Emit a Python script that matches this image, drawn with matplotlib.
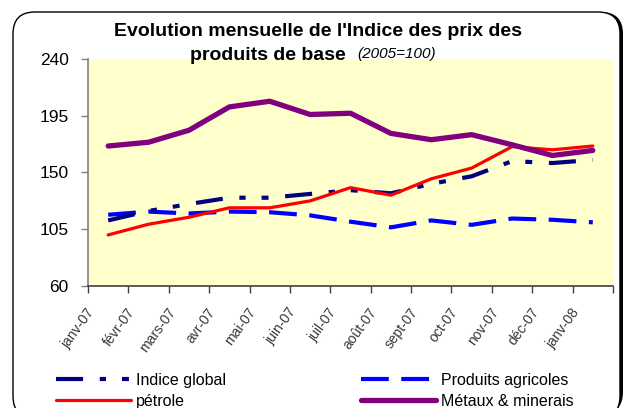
import matplotlib
matplotlib.use("Agg")
import matplotlib.pyplot as plt
from matplotlib.patches import FancyBboxPatch

plt.rcParams['font.family'] = ['Liberation Sans', 'DejaVu Sans']
plt.rcParams['lines.scale_dashes'] = False

# ---- data ----
months = ["janv-07", "févr-07", "mars-07", "avr-07", "mai-07", "juin-07", "juil-07",
          "août-07", "sept-07", "oct-07", "nov-07", "déc-07", "janv-08"]
indice_global = [112, 119.5, 125, 130, 130, 133, 136, 133.5, 141, 147, 159, 157.5, 160]
produits_agricoles = [116.5, 119, 117.5, 119, 118.5, 116, 111, 106.5, 112, 108.5, 113.5, 112.5, 110.5]
petrole = [100.5, 109, 114.5, 122, 122, 127.5, 138, 132, 145, 153.5, 170.5, 168, 171]
metaux = [171, 174, 183.5, 202, 206.5, 196, 197, 181, 176, 180, 172, 163.5, 167.5]
y_ticks = [60, 105, 150, 195, 240]

W, H = 625, 408
fig = plt.figure(figsize=(W / 100, H / 100), dpi=100)
fig.patch.set_facecolor('white')

# outer rounded frame with shadow
asp = W / H
shadow = FancyBboxPatch((16 / W, -6 / H), (607 / W), (396 / H + 6 / H),
                        boxstyle="round,pad=0,rounding_size=0.035",
                        mutation_aspect=asp, transform=fig.transFigure,
                        facecolor='black', edgecolor='black', lw=0, zorder=0)
frame = FancyBboxPatch((13 / W, -10 / H), (607 / W), (408 - 12 + 10) / H,
                       boxstyle="round,pad=0,rounding_size=0.035",
                       mutation_aspect=asp, transform=fig.transFigure,
                       facecolor='white', edgecolor='black', lw=1.0, zorder=0.5)
fig.patches.extend([shadow, frame])

left, right, top, bottom = 88, 613, 59, 286
ax = fig.add_axes([left / W, 1 - bottom / H, (right - left) / W, (bottom - top) / H])
ax.set_facecolor('#FFFFCC')
ax.set_zorder(2)

x = list(range(len(months)))
ax.plot(x, produits_agricoles, color='#0000FF', lw=3.0, dashes=(20, 9),
        dash_capstyle='butt', label='Produits agricoles', zorder=3)
ax.plot(x, indice_global, color='#000080', lw=3.0, dashes=(19.5, 12, 4.5, 11.5, 5, 12),
        dash_capstyle='butt', label='Indice global', zorder=4)
ax.plot(x, petrole, color='#FF0000', lw=2.3, solid_capstyle='round',
        solid_joinstyle='round', label='pétrole', zorder=5)
ax.plot(x, metaux, color='#800080', lw=3.8, solid_capstyle='round',
        solid_joinstyle='round', label='Métaux & minerais', zorder=6)

ax.set_yticks(y_ticks)
ax.set_yticklabels([str(v) for v in y_ticks], fontsize=12.5)
ax.tick_params(axis='y', direction='out', length=5, width=1, color='#808080', pad=9)

bounds = [i - 0.5 for i in range(len(months) + 1)]
ax.set_xticks(bounds)
ax.set_xticklabels([''] * len(bounds))
ax.tick_params(axis='x', which='major', direction='out', length=5, width=1, color='#404040')
ax.set_ylim(60, 240)
ax.set_xlim(-0.5, len(months) - 0.5)

# month labels (rotated, upper end slightly left of each category centre)
for i, m in enumerate(months):
    ax.text(i - 0.55, -0.085, m, transform=ax.get_xaxis_transform(), rotation=54,
            ha='right', va='top', rotation_mode='anchor', fontsize=10,
            color='#383838', clip_on=False)

for s in ['top', 'right']:
    ax.spines[s].set_visible(False)
ax.spines['left'].set_color('#808080')
ax.spines['bottom'].set_color('#404040')
ax.spines['left'].set_linewidth(1.2)
ax.spines['bottom'].set_linewidth(1.2)

# title
fig.text(318 / W, 1 - 31 / H, "Evolution mensuelle de l'Indice des prix des",
         ha='center', va='center', fontsize=14, fontweight='bold')
fig.text(346 / W, 1 - 56 / H, "produits de base", ha='right', va='center',
         fontsize=14, fontweight='bold', zorder=5)
fig.text(357 / W, 1 - 54 / H, "(2005=100)", ha='left', va='center',
         fontsize=11, style='italic', zorder=5)

# legend (two columns)
h = {l.get_label(): l for l in ax.get_lines()}
kw = dict(frameon=False, fontsize=11.5, handlelength=4.7, handletextpad=0.3,
          labelspacing=0.35, borderpad=0, borderaxespad=0)
leg1 = fig.legend([h['Indice global'], h['pétrole']], ['Indice global', 'pétrole'],
                  loc='upper left', bbox_to_anchor=(56 / W, 1 - 373 / H), **kw)
leg2 = fig.legend([h['Produits agricoles'], h['Métaux & minerais']],
                  ['Produits agricoles', 'Métaux & minerais'],
                  loc='upper left', bbox_to_anchor=(361 / W, 1 - 373 / H), **kw)

fig.savefig('out.png', dpi=100)
